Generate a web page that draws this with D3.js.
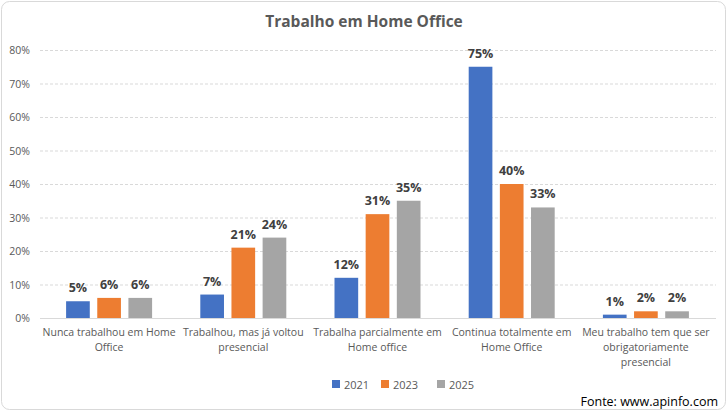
<!DOCTYPE html>
<html>
<head>
<meta charset="utf-8">
<script src="https://cdn.jsdelivr.net/npm/d3@7"></script>
<style>
  body { margin: 0; background: #fff; }
  text { font-family: "Open Sans", "Noto Sans", sans-serif; }
</style>
</head>
<body>
<svg id="chart" width="728" height="412"></svg>
<script>
// chart data
var categories = [
  ["Nunca trabalhou em Home", "Office"],
  ["Trabalhou, mas já voltou", "presencial"],
  ["Trabalha parcialmente em", "Home office"],
  ["Continua totalmente em", "Home Office"],
  ["Meu trabalho tem que ser", "obrigatoriamente", "presencial"]
];
var seriesNames = ["2021", "2023", "2025"];
var values2021 = [5, 7, 12, 75, 1];
var values2023 = [6, 21, 31, 40, 2];
var values2025 = [6, 24, 35, 33, 2];
var yTicks = [0, 10, 20, 30, 40, 50, 60, 70, 80];

var colors = ["#4472C4", "#ED7D31", "#A5A5A5"];
var allValues = [values2021, values2023, values2025];

var svg = d3.select("#chart");

// outer border
svg.append("rect")
    .attr("x", 1.5).attr("y", 1.5)
    .attr("width", 724).attr("height", 408)
    .attr("rx", 8)
    .attr("fill", "#fff")
    .attr("stroke", "#d9d9d9");

svg.append("text")
    .attr("x", 364).attr("y", 27)
    .attr("text-anchor", "middle")
    .attr("font-size", 15.5).attr("font-weight", "bold")
    .attr("fill", "#595959")
    .text("Trabalho em Home Office");

var x = d3.scaleBand().domain(d3.range(categories.length)).range([42, 713]);
var y = d3.scaleLinear().domain([0, 80]).range([318, 50]);
var xs = d3.scaleBand().domain(d3.range(seriesNames.length))
    .range([x.bandwidth() / 2 - 43, x.bandwidth() / 2 + 43]).paddingInner(0.24);

// gridlines
svg.append("g").selectAll("line").data(yTicks.slice(1)).join("line")
    .attr("x1", 40).attr("x2", 716)
    .attr("y1", function(d) { return y(d) + 0.5; })
    .attr("y2", function(d) { return y(d) + 0.5; })
    .attr("stroke", "#d9d9d9").attr("stroke-dasharray", "3,2");

svg.append("line")
    .attr("x1", 40).attr("x2", 716)
    .attr("y1", y(0) + 0.5).attr("y2", y(0) + 0.5)
    .attr("stroke", "#d9d9d9");

svg.append("g").selectAll("text").data(yTicks).join("text")
    .attr("x", 30).attr("y", function(d) { return y(d) + 4; })
    .attr("text-anchor", "end")
    .attr("font-size", 10.5).attr("fill", "#595959")
    .text(function(d) { return d + "%"; });

// bars
allValues.forEach(function(vals, s) {
    var g = svg.append("g");
    g.selectAll("rect").data(vals).join("rect")
        .attr("x", function(d, i) { return x(i) + xs(s); })
        .attr("width", xs.bandwidth())
        .attr("y", function(d) { return y(d); })
        .attr("height", function(d) { return y(0) - y(d); })
        .attr("fill", colors[s]);
    g.selectAll("text").data(vals).join("text")
        .attr("x", function(d, i) { return x(i) + xs(s) + xs.bandwidth() / 2; })
        .attr("y", function(d) { return y(d) - 9; })
        .attr("text-anchor", "middle")
        .attr("font-size", 12.5).attr("font-weight", "bold")
        .attr("fill", "#404040")
        .text(function(d) { return d + "%"; });
});

// category labels
var catG = svg.append("g");
categories.forEach(function(lines, i) {
    var t = catG.append("text")
        .attr("x", x(i) + x.bandwidth() / 2)
        .attr("y", 336)
        .attr("text-anchor", "middle")
        .attr("font-size", 10.5).attr("fill", "#595959");
    lines.forEach(function(line, j) {
        t.append("tspan")
            .attr("x", x(i) + x.bandwidth() / 2)
            .attr("dy", j === 0 ? 0 : 15)
            .text(line);
    });
});

// legend
var legendX = [332, 381, 437];
var legend = svg.append("g");
seriesNames.forEach(function(name, s) {
    legend.append("rect")
        .attr("x", legendX[s]).attr("y", 380)
        .attr("width", 8).attr("height", 8)
        .attr("fill", colors[s]);
    legend.append("text")
        .attr("x", legendX[s] + 12).attr("y", 388.5)
        .attr("font-size", 11).attr("fill", "#595959")
        .text(name);
});

svg.append("text")
    .attr("x", 718).attr("y", 406)
    .attr("text-anchor", "end")
    .attr("font-size", 12.5).attr("fill", "#000")
    .text("Fonte: www.apinfo.com");
</script>
</body>
</html>
